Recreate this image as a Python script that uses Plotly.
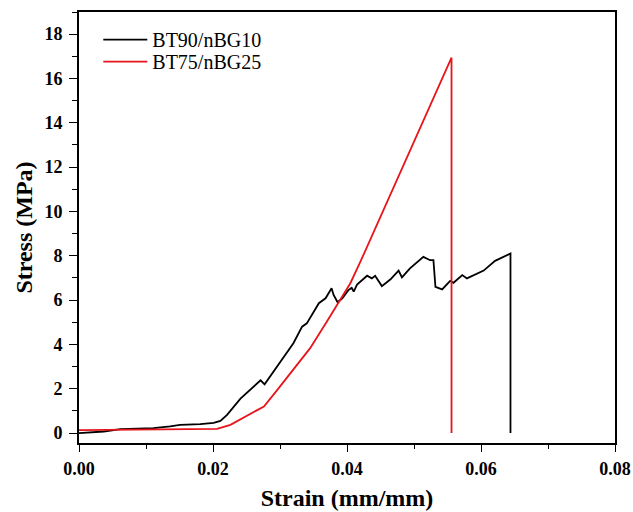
import plotly.graph_objects as go

# BT90/nBG10 (black)
strain_bt90 = [0.0, 0.0037, 0.0062, 0.0111, 0.0136, 0.0145, 0.0151, 0.0181, 0.0201, 0.0211,
               0.0221, 0.0241, 0.0258, 0.0271, 0.0277, 0.0296, 0.0320, 0.0333, 0.0340, 0.0358,
               0.0368, 0.0377, 0.0380, 0.0386, 0.0393, 0.0402, 0.0407, 0.0410, 0.0415, 0.0430,
               0.0437, 0.0442, 0.0452, 0.0465, 0.0477, 0.0482, 0.0494, 0.0514, 0.0524, 0.0529,
               0.0532, 0.0542, 0.0554, 0.0559, 0.0572, 0.0579, 0.0604, 0.0621, 0.0641, 0.0644,
               0.0644]
stress_bt90 = [0.0, 0.07, 0.18, 0.22, 0.30, 0.35, 0.37, 0.40, 0.46, 0.55,
               0.82, 1.55, 2.00, 2.38, 2.20, 3.00, 4.05, 4.80, 4.95, 5.86,
               6.08, 6.53, 6.23, 5.90, 6.08, 6.45, 6.55, 6.38, 6.70, 7.10,
               6.98, 7.10, 6.63, 6.94, 7.33, 7.02, 7.43, 7.95, 7.80, 7.80,
               6.60, 6.48, 6.87, 6.78, 7.13, 6.98, 7.33, 7.77, 8.08, 8.10,
               0.0]

# BT75/nBG25 (red)
strain_bt75 = [0.0, 0.0151, 0.0206, 0.0226, 0.0251, 0.0276, 0.0296, 0.0320, 0.0345, 0.0370,
               0.0387, 0.0405, 0.0420, 0.0440, 0.0494, 0.0556, 0.0556]
stress_bt75 = [0.13, 0.15, 0.19, 0.37, 0.80, 1.20, 1.95, 2.85, 3.83, 5.03,
               5.86, 6.76, 7.73, 9.08, 12.76, 16.94, 0.0]

x_ticks = [0.00, 0.02, 0.04, 0.06, 0.08]
x_ticklabels = ["0.00", "0.02", "0.04", "0.06", "0.08"]
y_ticks = [0, 2, 4, 6, 8, 10, 12, 14, 16, 18]

FONT = "Liberation Serif"

fig = go.Figure()
fig.add_trace(go.Scatter(x=strain_bt90, y=stress_bt90, mode="lines", name="BT90/nBG10",
                         line=dict(color="black", width=1.8), legend="legend"))
fig.add_trace(go.Scatter(x=strain_bt75, y=stress_bt75, mode="lines", name="BT75/nBG25",
                         line=dict(color="#e8141b", width=1.8), legend="legend2"))

axis_common = dict(
    showline=True, linecolor="black", linewidth=1.6, mirror=True,
    ticks="outside", tickcolor="black", tickwidth=1.4,
    showgrid=False, zeroline=False, automargin=False,
    tickfont=dict(family=FONT, size=18, color="black", weight="bold"),
)

fig.update_xaxes(
    range=[0, 0.08], tickvals=x_ticks, ticktext=x_ticklabels, ticklen=7,
    ticklabelstandoff=2,
    minor=dict(dtick=0.01, ticks="outside", ticklen=4, tickwidth=1.4, tickcolor="black"),
    title=dict(text="<b>Strain (mm/mm)</b>", font=dict(family=FONT, size=24, color="black"),
               standoff=11),
    **axis_common,
)
fig.update_yaxes(
    range=[-0.45, 19], tickvals=y_ticks, ticklen=8,
    ticklabelstandoff=3,
    minor=dict(dtick=1, ticks="outside", ticklen=5, tickwidth=1.4, tickcolor="black"),
    title=dict(text="<b>Stress (MPa)</b>", font=dict(family=FONT, size=24, color="black"),
               standoff=5),
    **axis_common,
)

legend_common = dict(xanchor="left", yanchor="middle",
                     font=dict(family=FONT, size=20, color="black"),
                     bgcolor="rgba(0,0,0,0)", itemwidth=44)

fig.update_layout(
    width=633, height=512,
    margin=dict(l=79, r=18, t=12, b=69),
    paper_bgcolor="white", plot_bgcolor="white",
    legend=dict(x=0.036, y=0.936, **legend_common),
    legend2=dict(x=0.036, y=0.885, **legend_common),
    showlegend=True,
)

# remove the default page margin so the figure fills the 633x512 window exactly
fig.write_html("out.html", config={"displayModeBar": False},
               post_script="document.body.style.margin='0';")
